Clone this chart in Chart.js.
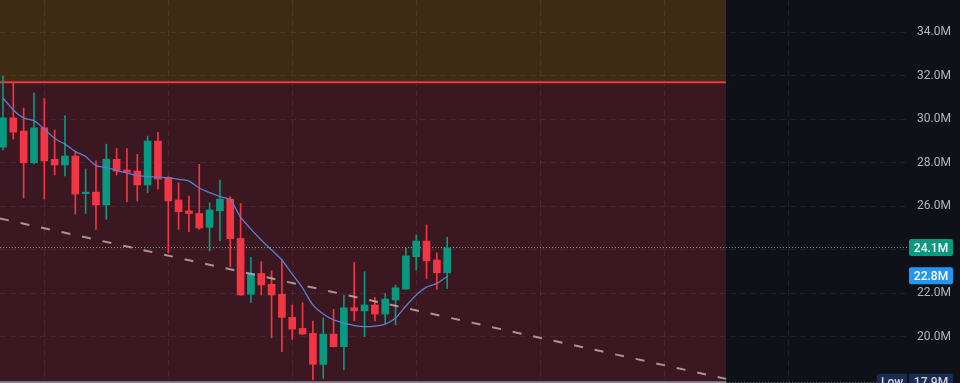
<!DOCTYPE html>
<html>
<head>
<meta charset="utf-8">
<title>Price chart</title>
<script src="https://cdn.jsdelivr.net/npm/chart.js@4.4.1/dist/chart.umd.min.js"></script>
<style>
    html, body { margin: 0; padding: 0; background: #0e1118; overflow: hidden; }
    canvas { display: block; }
</style>
</head>
<body>
<canvas id="priceChart" width="960" height="383"></canvas>
<script>
// -------------------------------------------------------------------------- //
// Data (values in millions), one candle per index

const opens  = [28.72, 30.07, 29.46, 28.00, 29.61, 28.16, 27.90, 28.31, 26.58, 26.65, 26.06, 28.16, 27.67, 27.62, 26.98, 29.00, 27.33, 26.29, 25.79, 25.67, 25.03, 25.79, 26.33, 24.52, 21.95, 22.91, 22.41, 21.95, 20.89, 20.38, 20.15, 18.73, 20.12, 19.54, 21.33, 21.19, 21.46, 21.04, 21.69, 22.19, 23.68, 24.40, 23.53, 22.94];
const highs  = [31.99, 31.68, 30.52, 31.22, 30.96, 29.51, 30.16, 28.51, 27.71, 28.09, 28.86, 28.66, 28.66, 28.39, 29.23, 29.40, 27.36, 27.08, 26.47, 27.93, 26.16, 27.21, 26.44, 26.13, 23.65, 23.45, 23.03, 23.56, 21.46, 21.56, 20.72, 20.87, 21.26, 21.92, 23.42, 22.99, 21.81, 21.99, 22.38, 24.06, 24.68, 25.14, 23.86, 24.57];
const lows   = [28.59, 29.09, 26.39, 27.95, 26.33, 27.44, 27.40, 25.64, 25.67, 24.94, 25.40, 27.44, 26.21, 26.24, 26.62, 26.79, 23.86, 24.94, 24.83, 24.94, 23.94, 24.41, 23.22, 21.90, 21.58, 21.92, 19.95, 19.31, 19.88, 20.10, 18.01, 18.08, 19.52, 18.47, 20.73, 20.00, 20.73, 20.61, 20.54, 22.17, 23.07, 22.68, 22.18, 22.22];
const closes = [30.07, 29.41, 28.00, 29.61, 28.09, 27.90, 28.31, 26.56, 26.64, 26.06, 28.17, 27.62, 27.57, 26.98, 29.00, 27.25, 26.25, 25.75, 25.67, 25.00, 25.83, 26.33, 24.51, 21.92, 22.91, 22.38, 21.92, 20.89, 20.35, 20.12, 18.73, 20.12, 19.54, 21.33, 21.19, 21.46, 21.04, 21.73, 22.25, 23.72, 24.40, 23.49, 22.94, 24.09];

// moving average
const maValues = [30.98, 30.43, 30.06, 29.94, 29.55, 29.12, 28.86, 28.52, 28.29, 27.87, 27.79, 27.64, 27.53, 27.41, 27.37, 27.34, 27.32, 27.24, 27.16, 26.84, 26.63, 26.45, 26.29, 25.50, 24.95, 24.45, 23.99, 23.53, 22.88, 22.24, 21.46, 21.04, 20.77, 20.63, 20.51, 20.46, 20.49, 20.58, 20.86, 21.41, 21.92, 22.28, 22.45, 22.77];

// axes
const yTicks = [20, 22, 24, 26, 28, 30, 32, 34];
const xGrid = [10, 22, 34, 46, 58, 70, 82];

// drawings: zones, trend line, price lines
const zoneLevel = 31.71;
const zoneX = [-0.29, 70];
const trendX = [-0.29, 70];
const trendY = [25.44, 18.06];
const lastPrice = 24.1;
const lowPrice = 17.9;

// price tags on the right axis
const badgeValues = [24.1, 22.8, 17.9];
const badgeLabels = ['24.1M', '22.8M', '17.9M'];

// -------------------------------------------------------------------------- //

const X_MIN = -0.29;
const X_MAX = 87.51;
const Y_MIN = 17.87;
const Y_MAX = 35.49;

const UP = '#089981';
const DOWN = '#f23645';
const GRID = 'rgba(255, 255, 255, 0.07)';

const isUp = i => closes[i] >= opens[i];
const hline = (xs, v) => xs.map(x => ({ x: x, y: v }));

// Etiquetas de precio a la derecha
const badgePlugin = {
    id: 'priceBadges',
    afterDraw(chart) {
        const ctx = chart.ctx;
        const yScale = chart.scales.y;
        const left = yScale.left + 2;
        const colors = [UP, '#2196f3', '#1c2b52'];

        ctx.save();
        ctx.font = '500 12px Roboto';
        ctx.textAlign = 'center';
        ctx.textBaseline = 'middle';

        badgeValues.forEach((v, i) => {
            const py = yScale.getPixelForValue(v);
            ctx.fillStyle = colors[i];
            ctx.beginPath();
            ctx.roundRect(left, py - 8.5, 44, 17, 2);
            ctx.fill();
            ctx.fillStyle = i === 2 ? '#d1d4dc' : '#ffffff';
            ctx.fillText(badgeLabels[i], left + 22, py + 1);

            if (i === 2) {
                ctx.fillStyle = colors[i];
                ctx.beginPath();
                ctx.roundRect(left - 32, py - 8.5, 30, 17, 2);
                ctx.fill();
                ctx.fillStyle = '#d1d4dc';
                ctx.fillText('Low', left - 17, py + 1);
            }
        });
        ctx.restore();
    }
};

const lineBase = {
    type: 'line',
    pointRadius: 0,
    borderWidth: 1,
    fill: false
};

new Chart(document.getElementById('priceChart'), {
    type: 'bar',
    data: {
        datasets: [
            // zona inferior (roja)
            { ...lineBase, data: hline(zoneX, zoneLevel), borderWidth: 0, borderColor: 'transparent',
              fill: 'start', backgroundColor: 'rgba(242, 54, 69, 0.2)', order: 11 },
            // zona superior (naranja) + borde rojo
            { ...lineBase, data: hline(zoneX, zoneLevel), borderWidth: 2, borderColor: DOWN,
              fill: 'end', backgroundColor: 'rgba(255, 152, 0, 0.2)', order: 10 },
            // borde inferior del rectángulo
            { ...lineBase, data: hline(zoneX, lowPrice + 0.01), borderWidth: 2, borderColor: '#8d8690', order: 9 },
            // líneas de precio punteadas
            { ...lineBase, data: hline([X_MIN, X_MAX], lastPrice), borderColor: 'rgba(160, 205, 190, 0.75)',
              borderDash: [1, 2], order: 8 },
            { ...lineBase, data: hline([zoneX[1], X_MAX], lowPrice), borderColor: 'rgba(200, 200, 210, 0.6)',
              borderDash: [1, 2], order: 8 },
            // mechas
            {
                type: 'bar',
                data: lows.map((l, i) => ({ x: i, y: [l, highs[i]] })),
                backgroundColor: ctx => isUp(ctx.dataIndex) ? UP : DOWN,
                barThickness: 1,
                grouped: false,
                order: 4
            },
            // cuerpos
            {
                type: 'bar',
                data: opens.map((o, i) => ({ x: i, y: [o, closes[i]] })),
                backgroundColor: ctx => isUp(ctx.dataIndex) ? UP : DOWN,
                barThickness: 7,
                minBarLength: 1.5,
                grouped: false,
                order: 3
            },
            // media móvil
            { ...lineBase, data: maValues.map((v, i) => ({ x: i, y: v })), borderColor: '#5b7fd0',
              borderWidth: 1.3, tension: 0.25, order: 2 },
            // línea de tendencia
            { ...lineBase, data: trendX.map((x, i) => ({ x: x, y: trendY[i] })), borderColor: 'rgba(190, 170, 178, 0.85)',
              borderWidth: 2, borderDash: [9, 12], order: 1 }
        ]
    },
    options: {
        responsive: false,
        animation: false,
        events: [],
        layout: { padding: 0 },
        plugins: {
            legend: { display: false },
            tooltip: { enabled: false }
        },
        scales: {
            x: {
                type: 'linear',
                min: X_MIN,
                max: X_MAX,
                offset: false,
                grid: { color: GRID, drawTicks: false },
                border: { display: false, dash: [6, 4] },
                ticks: { display: false },
                afterBuildTicks: scale => {
                    scale.ticks = xGrid.map(v => ({ value: v }));
                }
            },
            y: {
                type: 'linear',
                position: 'right',
                min: Y_MIN,
                max: Y_MAX,
                grid: { color: GRID, drawTicks: false },
                border: { display: false, dash: [6, 4] },
                ticks: {
                    color: '#b2b5be',
                    font: { family: 'Roboto', size: 12 },
                    padding: 10,
                    crossAlign: 'near',
                    callback: v => v.toFixed(1) + 'M'
                },
                afterBuildTicks: scale => {
                    scale.ticks = yTicks.map(v => ({ value: v }));
                },
                afterFit: scale => {
                    scale.width = 53;
                    scale.paddingTop = 0;
                    scale.paddingBottom = 0;
                }
            }
        }
    },
    plugins: [badgePlugin]
});
</script>
</body>
</html>
